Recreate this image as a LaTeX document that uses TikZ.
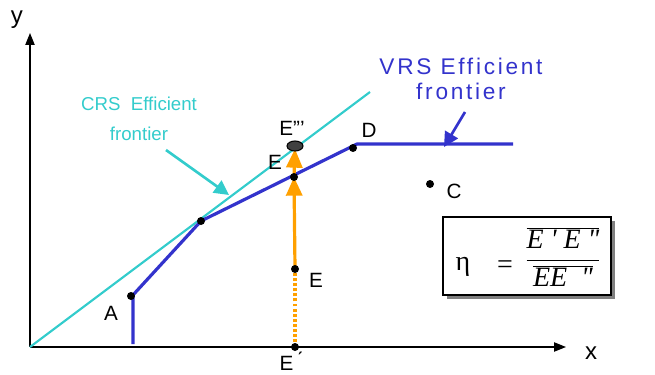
\documentclass[tikz,border=0pt]{standalone}
\usepackage{fontspec}
\setmainfont{Liberation Sans}
\newfontfamily\serif{Liberation Serif}
\usetikzlibrary{arrows.meta,shapes.geometric}
\definecolor{crs}{RGB}{51,204,204}
\definecolor{vrs}{RGB}{51,51,204}
\definecolor{org}{RGB}{255,160,0}
\begin{document}
\begin{tikzpicture}[x=0.75pt,y=-0.75pt,
  axis/.style={line width=0.9pt,-{Triangle[length=9pt,width=7pt]}},
  lbl/.style={font=\fontsize{15.5}{17}\selectfont,inner sep=0pt},
  axlbl/.style={font=\fontsize{18}{20}\selectfont,inner sep=0pt},
  dot/.style={circle,fill=black,inner sep=0pt,minimum size=6pt},
  vline/.style={vrs,line width=2.4pt},
  oarrow/.style={org,line width=2.4pt,-{Triangle[length=14pt,width=12pt]}},
  callout/.style={line width=2pt,-{Triangle[length=11pt,width=11pt]}}]
\useasboundingbox (0,0) rectangle (655,374);
% axes
\coordinate (O) at (30,347);
\coordinate (Xend) at (566,347);
\coordinate (Yend) at (30,33);
\draw[axis] (O) -- (Xend);
\draw[axis] (O) -- (Yend);
\node[axlbl] (ylab) at (17,20) {y};
\node[axlbl] (xlab) at (591,353) {x};
% CRS frontier
\coordinate (Cend) at (370,92);
\draw[crs,line width=1.6pt] (O) -- (Cend);
% VRS frontier
\coordinate (V0) at (133,344);
\coordinate (V1) at (133,295);
\coordinate (V2) at (201,221);
\coordinate (V3) at (357,144);
\coordinate (V4) at (513,144);
\draw[vline,line join=round] (V0) -- (V1) -- (V2) -- (V3) -- (V4);
% orange path coordinates
\coordinate (pEp) at (295,347);
\coordinate (pE) at (295,269);
\coordinate (pEf) at (294,177);
\coordinate (pE3) at (295,149);
\draw[org,line width=2.4pt,dash pattern=on 2.2pt off 1.6pt] (pEp) -- (pE);
\draw[oarrow] (pE) -- (pEf);
\draw[oarrow] (pEf) -- (pE3);
% points
\node[dot] (A) at (131,296) {};
\node[dot] (V2d) at (201,221) {};
\node[dot] (D) at (353,148) {};
\node[dot] (Ef) at (pEf) {};
\node[dot] (E) at (pE) {};
\node[dot] (Ep) at (pEp) {};
\node[dot] (C) at (430,184) {};
\node[ellipse,draw=black,fill=black!75,line width=0.8pt,minimum width=12pt,minimum height=7.5pt,inner sep=0pt] (E3) at (295,146) {};
% labels
\node[lbl] (lA) at (111,313) {A};
\node[lbl] (lD) at (369,130) {D};
\node[lbl] (lE3) at (292,128) {E'''};
\node[lbl] (lEf) at (275,162) {E};
\node[lbl] (lE) at (316,280) {E};
\node[lbl] (lEp) at (291,361) {E\,\'{}};
\node[lbl] (lC) at (454,191) {C};
% CRS label
\node[crs,align=center,font=\fontsize{14}{22.5}\selectfont,inner sep=0pt] (crslab) at (139,119) {CRS\ \ Efficient\\frontier};
\coordinate (ca1) at (166,150);
\coordinate (ca2) at (229,195);
\draw[crs,callout] (ca1) -- (ca2);
% VRS label
\node[vrs,align=center,font=\fontsize{17}{19}\selectfont\addfontfeatures{LetterSpace=12},inner sep=0pt] (vrslab) at (461,79) {VRS Efficient\\frontier};
\coordinate (va1) at (465,112);
\coordinate (va2) at (444,147);
\draw[vrs,callout] (va1) -- (va2);
% formula box
\fill[black!50] (447,221) rectangle (615,299);
\node[draw=black,fill=white,line width=1.1pt,minimum width=126pt,minimum height=58.5pt,inner sep=0pt] (box) at (527,256) {};
\node[font=\serif\fontsize{21}{24}\selectfont,inner sep=0pt] (eta) at (463,267) {η};
\node[font=\serif\fontsize{21}{24}\selectfont,inner sep=0pt] (eq) at (505,267) {=};
\node[inner sep=0pt] (frac) at (563,257) {\fontsize{21}{24}\selectfont$\displaystyle\frac{\overline{\hbox{\serif\itshape E ' E "}}}{\overline{\hbox{\serif\itshape EE\ \ "}}}$};
\end{tikzpicture}
\end{document}
